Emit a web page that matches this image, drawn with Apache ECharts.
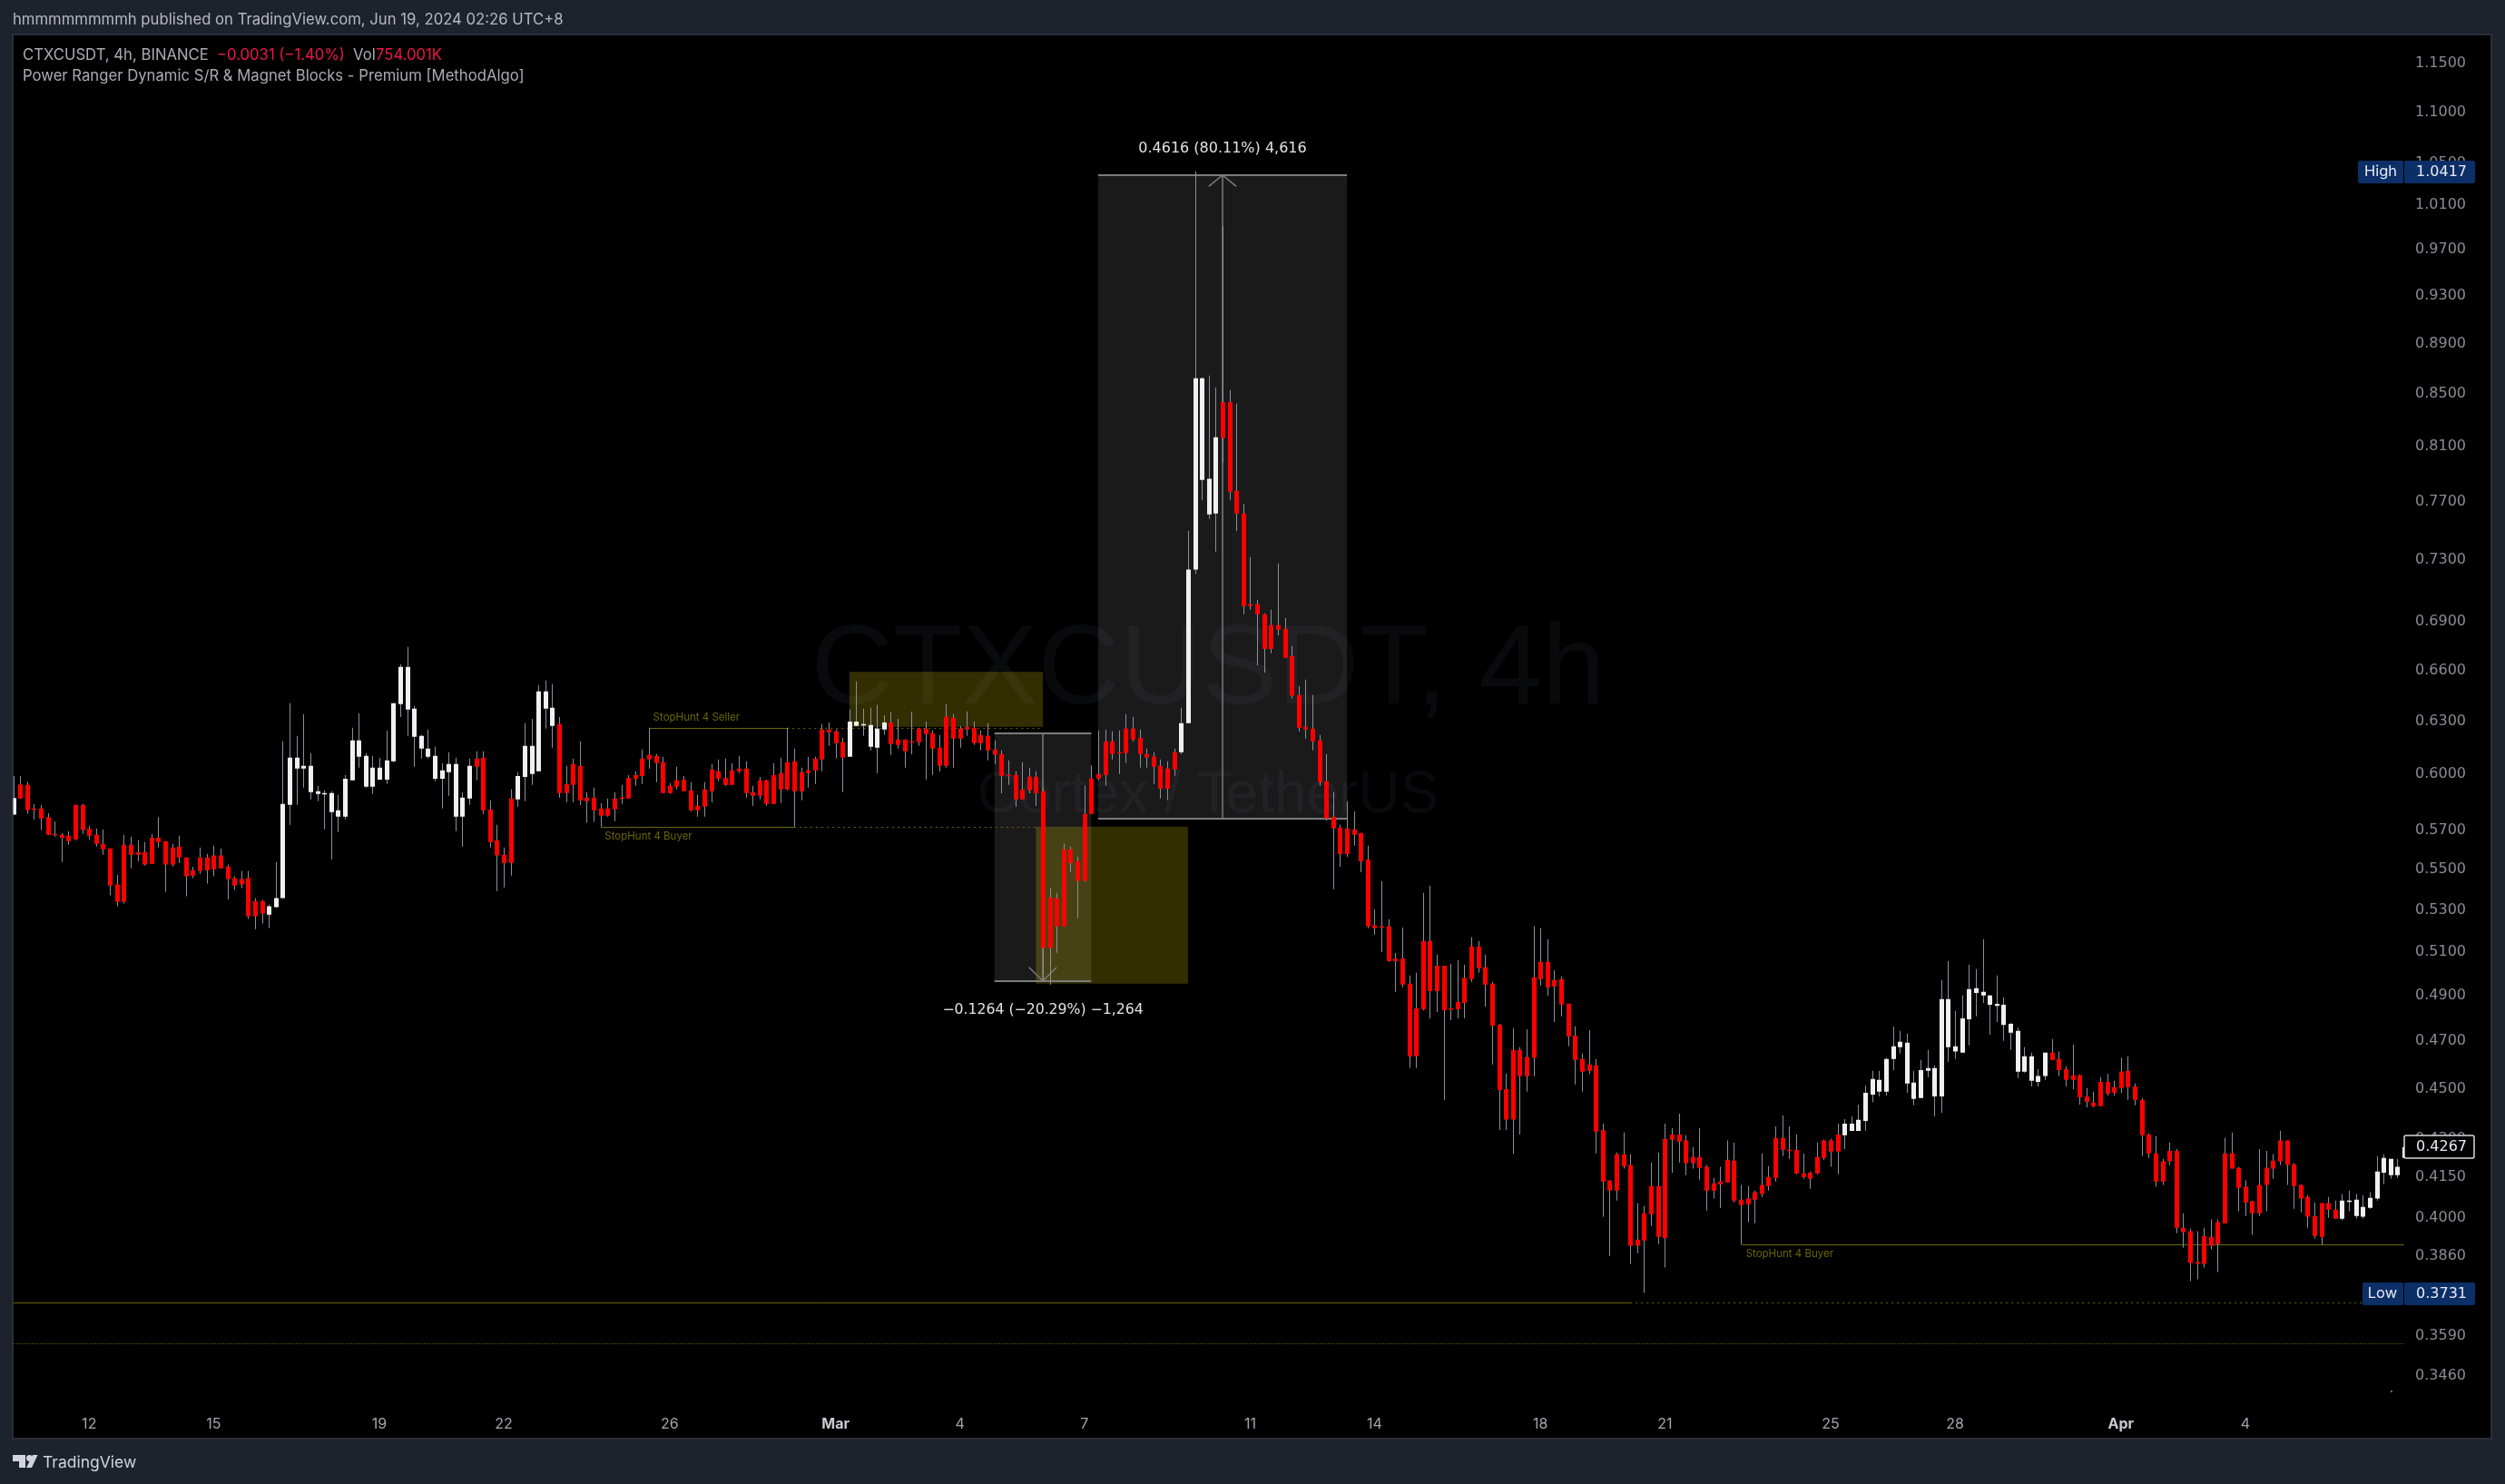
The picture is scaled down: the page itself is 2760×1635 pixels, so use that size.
<!DOCTYPE html>
<html>
<head>
<meta charset="utf-8">
<title>CTXCUSDT, 4h</title>
<style>
  html, body { margin: 0; padding: 0; background: #1e222d; }
  #chart { width: 2760px; height: 1635px; }
</style>
<script src="https://cdn.jsdelivr.net/npm/echarts@6/dist/echarts.min.js"></script>
</head>
<body>
<div id="chart"></div>
<script>
// 4h candles, left to right. Bars are coloured by the indicator and not by
// direction, so a body is kept as top and bottom rather than open and close.
const highs = [
  .5992,.5992,.5961,.5839,.5834,.5791,.5748,.5686,.5697,.5836,
  .5840,.5724,.5710,.5705,.5608,.5473,.5678,.5667,.5649,.5640,
  .5681,.5771,.5645,.5631,.5673,.5561,.5514,.5612,.5580,.5622,
  .5608,.5525,.5466,.5493,.5493,.5358,.5349,.5327,.5538,.6185,
  .6404,.6216,.6340,.6118,.5938,.5914,.5909,.5889,.5997,.6262,
  .6346,.6118,.6103,.6093,.6247,.6404,.6637,.6743,.6388,.6221,
  .6252,.6154,.6063,.6123,.6093,.5904,.6088,.6129,.6129,.5860,
  .5730,.5612,.5919,.6013,.6288,.6314,.6512,.6539,.6517,.6324,
  .6048,.6088,.6185,.5904,.5928,.5845,.5870,.5904,.5943,.5997,
  .6018,.6139,.6262,.6113,.6098,.5953,.6043,.5992,.5958,.5889,
  .5958,.6058,.6083,.6088,.6063,.6103,.6073,.5938,.5987,.5972,
  .6063,.6093,.6262,.6144,.6038,.6098,.6098,.6283,.6293,.6252,
  .6205,.6367,.6533,.6372,.6378,.6394,.6335,.6351,.6314,.6195,
  .6355,.6262,.6297,.6247,.6221,.6399,.6341,.6273,.6357,.6299,
  .6247,.6288,.6190,.6134,.6078,.6018,.6068,.6038,.6018,.5927,
  .5407,.5384,.5631,.5617,.5565,.5939,.6050,.6247,.6252,.6242,
  .6247,.6341,.6325,.6252,.6144,.6124,.6083,.6073,.6144,.6378,
  .7498,1.0417,.8629,.8644,.8551,.9907,.8530,.8424,.7687,.7321,
  .7040,.6954,.6977,.7279,.6925,.6749,.6506,.6544,.6453,.6221,
  .6114,.5904,.5730,.5855,.5801,.5687,.5622,.5303,.5442,.5256,
  .5096,.5217,.4992,.5004,.5384,.5420,.5088,.5037,.5046,.5062,
  .5041,.5170,.5152,.5088,.4963,.4776,.4564,.4756,.4675,.4752,
  .5222,.5213,.5161,.5016,.4988,.4864,.4765,.4648,.4748,.4625,
  .4359,.4138,.4245,.4324,.4238,.4053,.4043,.4207,.4245,.4359,
  .4341,.4399,.4313,.4267,.4341,.4197,.4148,.4190,.4292,.4284,
  .4121,.4117,.4100,.4242,.4193,.4348,.4392,.4348,.4316,.4242,
  .4172,.4284,.4295,.4299,.4359,.4377,.4388,.4436,.4514,.4575,
  .4575,.4629,.4764,.4745,.4733,.4575,.4621,.4663,.4598,.4971,
  .5058,.4833,.4901,.5041,.5021,.5160,.4905,.4992,.4893,.4780,
  .4760,.4675,.4652,.4582,.4652,.4710,.4656,.4594,.4686,.4560,
  .4503,.4488,.4548,.4563,.4533,.4629,.4636,.4522,.4462,.4320,
  .4309,.4221,.4284,.4259,.4016,.3960,.3950,.3963,.3993,.3993,
  .4302,.4324,.4190,.4138,.4063,.4259,.4252,.4238,.4330,.4292,
  .4204,.4124,.4083,.4056,.4053,.4076,.4063,.4087,.4100,.4087,
  .4083,.4094,.4231,.4238,.4221,.4221,.4313
];
const bodyTops = [
  .5872,.5946,.5943,.5816,.5816,.5771,.5682,.5678,.5673,.5836,
  .5836,.5708,.5678,.5631,.5608,.5425,.5626,.5626,.5589,.5589,
  .5663,.5663,.5645,.5612,.5617,.5561,.5497,.5561,.5561,.5571,
  .5571,.5515,.5457,.5452,.5457,.5344,.5344,.5318,.5358,.5840,
  .6093,.6093,.6048,.6048,.5909,.5899,.5899,.5806,.5977,.6190,
  .6190,.6103,.6038,.6038,.6078,.6404,.6621,.6621,.6372,.6216,
  .6144,.6103,.6023,.6058,.6058,.5875,.6048,.6088,.6093,.5811,
  .5649,.5575,.5870,.5992,.6159,.6159,.6474,.6474,.6378,.6283,
  .5948,.6058,.6048,.5875,.5875,.5816,.5816,.5870,.5875,.5982,
  .5997,.6088,.6108,.6103,.6068,.5938,.5968,.5972,.5914,.5831,
  .5919,.6028,.6018,.5982,.6023,.6033,.6033,.5904,.5968,.5968,
  .5997,.6008,.6068,.6073,.6013,.6023,.6088,.6252,.6252,.6242,
  .6180,.6298,.6298,.6283,.6278,.6257,.6293,.6293,.6195,.6195,
  .6185,.6257,.6257,.6231,.6149,.6325,.6320,.6257,.6268,.6262,
  .6221,.6216,.6139,.6114,.5998,.5998,.5917,.5988,.5988,.5909,
  .5362,.5358,.5603,.5603,.5543,.5787,.5978,.6003,.6185,.6185,
  .6124,.6257,.6257,.6205,.6114,.6099,.6048,.6033,.6124,.6288,
  .7237,.8622,.8622,.7864,.8169,.8436,.8436,.7778,.7618,.7011,
  .7011,.6948,.6879,.6879,.6856,.6687,.6453,.6267,.6257,.6190,
  .5963,.5772,.5716,.5711,.5706,.5687,.5551,.5226,.5222,.5222,
  .5070,.5070,.4955,.4844,.5152,.5152,.5037,.5037,.4844,.4872,
  .4980,.5126,.5126,.5029,.4955,.4772,.4499,.4663,.4663,.4633,
  .4984,.5054,.5054,.4971,.4975,.4865,.4725,.4625,.4602,.4598,
  .4333,.4138,.4238,.4238,.4197,.3920,.4016,.4117,.4117,.4299,
  .4316,.4316,.4292,.4228,.4228,.4190,.4127,.4134,.4217,.4214,
  .4066,.4070,.4094,.4121,.4151,.4302,.4302,.4256,.4256,.4165,
  .4168,.4228,.4292,.4292,.4316,.4359,.4359,.4374,.4484,.4541,
  .4537,.4625,.4679,.4698,.4694,.4526,.4578,.4586,.4586,.4885,
  .4885,.4679,.4800,.4930,.4934,.4918,.4901,.4864,.4860,.4776,
  .4745,.4636,.4636,.4553,.4652,.4652,.4625,.4582,.4556,.4556,
  .4469,.4444,.4529,.4529,.4507,.4571,.4575,.4510,.4455,.4316,
  .4242,.4211,.4252,.4252,.3963,.3950,.3840,.3933,.3930,.3983,
  .4242,.4242,.4186,.4114,.4060,.4121,.4186,.4214,.4292,.4292,
  .4200,.4121,.4076,.4006,.4053,.4053,.4029,.4063,.4063,.4066,
  .4039,.4073,.4172,.4224,.4221,.4190,.4267
];
const bodyBottoms = [
  .5784,.5870,.5808,.5811,.5763,.5678,.5678,.5663,.5645,.5654,
  .5702,.5673,.5631,.5603,.5420,.5340,.5340,.5575,.5575,.5525,
  .5529,.5640,.5525,.5525,.5561,.5466,.5470,.5493,.5497,.5501,
  .5506,.5452,.5420,.5425,.5270,.5270,.5283,.5278,.5314,.5358,
  .5836,.6033,.6033,.5904,.5894,.5894,.5797,.5773,.5773,.5968,
  .6098,.5933,.5933,.5972,.5972,.6073,.6399,.6367,.6211,.6144,
  .6098,.5977,.5977,.6013,.5773,.5773,.5870,.6043,.5806,.5640,
  .5571,.5534,.5534,.5865,.5987,.6003,.6018,.6372,.6273,.5899,
  .5899,.5943,.5860,.5855,.5806,.5778,.5778,.5811,.5870,.5870,
  .5977,.5992,.6083,.6063,.5899,.5899,.5933,.5909,.5806,.5806,
  .5826,.5909,.5977,.5943,.5943,.6018,.5899,.5884,.5884,.5840,
  .5840,.5919,.5919,.5909,.5909,.6008,.6023,.6083,.6237,.6175,
  .6093,.6098,.6273,.6278,.6154,.6149,.6252,.6170,.6164,.6129,
  .6180,.6180,.6226,.6144,.6048,.6048,.6200,.6200,.6252,.6174,
  .6174,.6134,.6109,.5993,.5993,.5865,.5865,.5913,.5898,.5119,
  .5119,.5221,.5221,.5534,.5443,.5443,.5787,.5978,.5998,.6114,
  .6119,.6119,.6195,.6114,.6094,.6043,.5922,.5922,.6028,.6124,
  .6288,.7237,.7857,.7612,.7618,.8163,.7772,.7618,.7000,.7000,
  .6948,.6731,.6731,.6850,.6676,.6448,.6262,.6252,.6185,.5958,
  .5763,.5711,.5579,.5579,.5678,.5542,.5222,.5213,.5217,.5058,
  .5058,.4951,.4636,.4636,.4840,.4921,.4921,.4836,.4840,.4840,
  .4868,.4975,.5025,.4951,.4768,.4495,.4375,.4375,.4552,.4552,
  .4629,.4975,.4938,.4942,.4861,.4721,.4621,.4571,.4575,.4327,
  .4134,.4100,.4100,.4193,.3898,.3898,.3917,.4012,.3930,.3926,
  .4295,.4288,.4204,.4204,.4186,.4100,.4100,.4124,.4131,.4063,
  .4046,.4049,.4066,.4087,.4117,.4148,.4256,.4252,.4165,.4151,
  .4144,.4165,.4224,.4249,.4249,.4313,.4330,.4330,.4370,.4476,
  .4488,.4488,.4625,.4675,.4522,.4459,.4462,.4575,.4469,.4469,
  .4675,.4656,.4652,.4796,.4913,.4901,.4860,.4855,.4771,.4737,
  .4571,.4571,.4533,.4529,.4553,.4621,.4578,.4537,.4537,.4465,
  .4447,.4429,.4429,.4481,.4484,.4503,.4507,.4455,.4313,.4242,
  .4134,.4134,.4211,.3963,.3947,.3837,.3834,.3834,.3898,.3904,
  .3979,.4183,.4110,.4056,.4016,.4016,.4121,.4183,.4211,.4197,
  .4117,.4070,.4003,.3933,.3930,.4029,.3996,.3996,.4060,.4006,
  .4003,.4036,.4070,.4168,.4158,.4158,.4224
];
const lows = [
  .5784,.5870,.5789,.5756,.5702,.5678,.5668,.5538,.5626,.5649,
  .5682,.5654,.5617,.5575,.5371,.5318,.5331,.5506,.5543,.5520,
  .5529,.5612,.5389,.5515,.5534,.5367,.5457,.5479,.5430,.5466,
  .5506,.5353,.5398,.5407,.5257,.5208,.5235,.5213,.5314,.5358,
  .5730,.5836,.5928,.5865,.5855,.5707,.5552,.5692,.5759,.5968,
  .6038,.5928,.5894,.5972,.5948,.6068,.6324,.6216,.6043,.6088,
  .6088,.5963,.5816,.5884,.5697,.5617,.5836,.5968,.5787,.5612,
  .5393,.5411,.5470,.5826,.5855,.5943,.6018,.6257,.6149,.5875,
  .5850,.5850,.5836,.5740,.5745,.5720,.5773,.5749,.5840,.5870,
  .5938,.5948,.6033,.5958,.5899,.5894,.5919,.5909,.5802,.5773,
  .5773,.5850,.5963,.5938,.5943,.6008,.5875,.5831,.5865,.5831,
  .5840,.5845,.5914,.5720,.5860,.5928,.5948,.6018,.6159,.6088,
  .5904,.6098,.6273,.6216,.6134,.6008,.6221,.6108,.6144,.6038,
  .6112,.6159,.5973,.5998,.6018,.6038,.6038,.6149,.6216,.6164,
  .6134,.6078,.6058,.5898,.5943,.5825,.5865,.5898,.5830,.4970,
  .4951,.5097,.5221,.5488,.5260,.5439,.5787,.5968,.5939,.6083,
  .6003,.6063,.6185,.6038,.6038,.5948,.5870,.5860,.5993,.6114,
  .6288,.7207,.7713,.7581,.7357,.7981,.7713,.7498,.6948,.6977,
  .6631,.6587,.6704,.6815,.6676,.6432,.6241,.6200,.6134,.5938,
  .5753,.5402,.5514,.5565,.5622,.5487,.5213,.5182,.5100,.5054,
  .4917,.4938,.4587,.4587,.4836,.4800,.4828,.4454,.4792,.4800,
  .4800,.4963,.5004,.4852,.4602,.4334,.4334,.4240,.4316,.4488,
  .4552,.4946,.4900,.4784,.4809,.4679,.4518,.4488,.4563,.4242,
  .4003,.3862,.4063,.4183,.3834,.3872,.3733,.3970,.3904,.3821,
  .4168,.4207,.4158,.4183,.4141,.4026,.4070,.4036,.4131,.4056,
  .3904,.3983,.3979,.4076,.4100,.4134,.4231,.4221,.4162,.4144,
  .4107,.4162,.4217,.4190,.4162,.4259,.4330,.4330,.4330,.4446,
  .4469,.4473,.4578,.4648,.4484,.4433,.4462,.4548,.4388,.4403,
  .4613,.4625,.4652,.4683,.4809,.4868,.4729,.4784,.4702,.4663,
  .4545,.4567,.4510,.4510,.4537,.4621,.4553,.4510,.4499,.4436,
  .4425,.4425,.4429,.4473,.4473,.4484,.4455,.4433,.4231,.4224,
  .4114,.4121,.4197,.3943,.3891,.3774,.3780,.3821,.3885,.3805,
  .3979,.4183,.4023,.4006,.3937,.4006,.4023,.4144,.4197,.4121,
  .4032,.4019,.3963,.3924,.3901,.3999,.3996,.3990,.4023,.3996,
  .3996,.4032,.4063,.4124,.4144,.4148,.4186
];
// stretches of white bars (first and last index), everything else is red
const whiteRuns = [[0, 0], [37, 66], [73, 78], [121, 126], [169, 174], [265, 294], [337, 346]];

// x axis: candle index where a day label sits, and its text
const dayTickIndex = [11, 29, 53, 71, 95, 119, 137, 155, 179, 197, 221, 239, 263, 281, 305, 323];
const dayTickLabel = ['12', '15', '19', '22', '26', 'Mar', '4', '7', '11', '14', '18', '21', '25', '28', 'Apr', '4'];
const priceTicks = [1.15, 1.1, 1.05, 1.01, .97, .93, .89, .85, .81, .77, .73, .69, .66, .63, .6, .57, .55, .53, .51, .49, .47, .45, .43, .415, .4, .386, .359, .346];

const RED = '#ff0000';
const WHITE = '#f0f0f0';
const WICK = '#8d8f99';
const OLIVE = '#6b6604';
const LABEL_GREY = '#8a8c92';
const TAG_BLUE = '#0c2f68';
const FONT = 'Inter, sans-serif';
const NUM_FONT = '"DejaVu Sans", sans-serif';

const categories = highs.map((_, i) => String(i));
const candleRows = highs.map((h, i) => {
  const white = whiteRuns.some(r => i >= r[0] && i <= r[1]);
  return [i, h, bodyTops[i], bodyBottoms[i], lows[i], white ? 1 : 0];
});

function renderCandle(params, api) {
  const i = api.value(0);
  const x = Math.round(api.coord([i, api.value(1)])[0]);
  const yHigh = api.coord([i, api.value(1)])[1];
  const yTop = api.coord([i, api.value(2)])[1];
  const yBottom = api.coord([i, api.value(3)])[1];
  const yLow = api.coord([i, api.value(4)])[1];
  const clip = params.coordSys;
  return {
    type: 'group',
    clipPath: { type: 'rect', shape: { x: clip.x, y: clip.y, width: clip.width, height: clip.height } },
    children: [
      { type: 'rect', shape: { x: x, y: yHigh, width: 1, height: Math.max(yLow - yHigh, 1) }, style: { fill: WICK } },
      { type: 'rect', shape: { x: x - 2, y: yTop, width: 5, height: Math.max(yBottom - yTop, 1.5) },
        style: { fill: api.value(5) ? WHITE : RED } }
    ]
  };
}

// helpers for the trader's drawings, all in bar index and price
const box = (x1, x2, top, bottom, fill) => [
  { coord: [x1, top], itemStyle: { color: fill, borderWidth: 0 } },
  { coord: [x2, bottom] }
];
const seg = (x1, p1, x2, p2, color, width, type) => [
  { coord: [x1, p1], lineStyle: { color: color, width: width, type: type || 'solid', opacity: 1 } },
  { coord: [x2, p2] }
];
const note = (x, p, text, color, size, position, offset, family) => ({
  coord: [x, p],
  symbol: 'circle',
  symbolSize: 0,
  label: { show: true, formatter: text, color: color, fontSize: size, fontFamily: family || FONT, position: position, distance: 0, offset: offset }
});

const BOX_GREY = 'rgba(255,255,255,0.10)';
const BOX_YELLOW = 'rgba(255,232,0,0.20)';
const MEASURE = '#7c7c7c';

const chart = echarts.init(document.getElementById('chart'), null, { renderer: 'canvas' });

const tag = (x, y, w, h, fill, stroke) => ({
  type: 'rect', z: 50, shape: { x: x, y: y, width: w, height: h, r: 2 },
  style: { fill: fill, stroke: stroke || null, lineWidth: stroke ? 1.5 : 0 }
});
const txt = (x, y, text, fill, size, align, family, z) => ({
  type: 'text', z: z === undefined ? 51 : z, silent: true,
  style: { x: x, y: y, text: text, fill: fill, font: size + 'px ' + (family || FONT), align: align || 'left', verticalAlign: 'middle' }
});

chart.setOption({
  animation: false,
  backgroundColor: '#1e222d',
  graphic: { elements: [
    { type: 'rect', z: -10, shape: { x: 14, y: 38, width: 2731, height: 1547 }, style: { fill: '#000000', stroke: '#2a2e39', lineWidth: 2 } },
    txt(1331, 741, 'CTXCUSDT, 4h', '#090a0c', 125, 'center', '"Liberation Sans", sans-serif', -5),
    txt(1331, 877, 'Cortex / TetherUS', '#090a0c', 64, 'center', '"Liberation Sans", sans-serif', -5),

    txt(14, 22, 'hmmmmmmmmh published on TradingView.com, Jun 19, 2024 02:26 UTC+8', '#b6b9c2', 16.7),
    txt(25, 60.5, 'CTXCUSDT, 4h, BINANCE', '#a9acb5', 16.7),
    txt(239, 60.5, '\u22120.0031 (\u22121.40%)', '#ee1747', 16.7),
    txt(389, 60.5, 'Vol', '#a9acb5', 16.7),
    txt(414, 60.5, '754.001K', '#ee1747', 16.7),
    txt(25, 84, 'Power Ranger Dynamic S/R & Magnet Blocks - Premium [MethodAlgo]', '#a9acb5', 16.7),

    tag(2598, 177, 50, 25, TAG_BLUE),
    tag(2649, 177, 78, 25, TAG_BLUE),
    txt(2623, 189.5, 'High', '#e8eaf0', 16.5, 'center'),
    txt(2718, 189.5, '1.0417', '#e8eaf0', 16, 'right', NUM_FONT),
    tag(2603, 1413, 45, 25, TAG_BLUE),
    tag(2649, 1413, 78, 25, TAG_BLUE),
    txt(2625, 1425.5, 'Low', '#e8eaf0', 16.5, 'center'),
    txt(2718, 1425.5, '0.3731', '#e8eaf0', 16, 'right', NUM_FONT),
    tag(2649, 1251, 77, 25, '#000000', '#d8d8d8'),
    txt(2718, 1263.5, '0.4267', '#e8eaf0', 16, 'right', NUM_FONT),
    { type: 'rect', z: 4, shape: { x: 2634, y: 1532, width: 2, height: 2 }, style: { fill: '#6a6a6a' } },

    // TradingView mark and wordmark
    { type: 'polygon', shape: { points: [[14, 1603], [28, 1603], [28, 1617], [21, 1617], [21, 1610], [14, 1610]] }, style: { fill: '#d1d4dc' } },
    { type: 'circle', shape: { cx: 32.5, cy: 1606.5, r: 3.5 }, style: { fill: '#d1d4dc' } },
    { type: 'polygon', shape: { points: [[36, 1603], [41.5, 1603], [35, 1617], [29, 1617]] }, style: { fill: '#d1d4dc' } },
    txt(47, 1612, 'TradingView', '#d1d4dc', 17.5)
  ] },
  grid: { left: 14.5, top: 38, width: 2634.5, height: 1547, containLabel: false },
  xAxis: {
    type: 'category',
    data: categories,
    boundaryGap: false,
    axisLine: { show: false },
    axisTick: { show: false },
    splitLine: { show: false },
    axisLabel: {
      inside: true,
      margin: 8,
      interval: i => dayTickIndex.includes(i),
      formatter: (v, i) => {
        const t = dayTickLabel[dayTickIndex.indexOf(i)];
        return (t === 'Mar' || t === 'Apr') ? '{m|' + t + '}' : t;
      },
      color: '#a3a6af',
      fontSize: 16,
      fontFamily: FONT,
      rich: { m: { fontWeight: 'bold', color: '#c8cad1', fontSize: 16, fontFamily: FONT } }
    }
  },
  yAxis: {
    type: 'log',
    logBase: 10,
    min: .32674,
    max: 1.181,
    position: 'right',
    axisLine: { show: false },
    axisTick: { show: false },
    splitLine: { show: false },
    minorTick: { show: false },
    axisLabel: {
      customValues: priceTicks,
      formatter: v => Number(v).toFixed(4),
      align: 'right',
      margin: 68,
      color: LABEL_GREY,
      fontSize: 16,
      fontFamily: NUM_FONT,
      padding: [6, 0, 0, 0]
    }
  },
  series: [
    {
      name: 'drawings',
      type: 'line',
      data: [],
      z: 1,
      silent: true,
      markArea: {
        silent: true,
        z: 1,
        data: [
          box(142, 156, .6231, .4967, BOX_GREY),
          box(157, 193, 1.0383, .5763, BOX_GREY),
          box(121, 149, .6591, .6267, BOX_YELLOW),
          box(148, 170, .5720, .4955, BOX_YELLOW)
        ]
      },
      markLine: {
        silent: true,
        z: 2,
        symbol: ['none', 'none'],
        label: { show: false },
        data: [
          // stop hunt levels
          seg(92, .6262, 112, .6262, OLIVE, 1),
          seg(112, .6262, 149, .6262, OLIVE, 1, [2, 4]),
          seg(85, .5720, 113, .5720, OLIVE, 1),
          seg(113, .5720, 148, .5720, OLIVE, 1, [2, 4]),
          seg(250, .3903, 346, .3903, OLIVE, 1),
          seg(0, .3701, 234, .3701, OLIVE, 1),
          seg(234, .3701, 340, .3701, OLIVE, 1, [2, 4]),
          seg(0, .3565, 346, .3565, '#8f8700', 1, [1, 2]),
          // price range tools
          seg(142, .6231, 156, .6231, MEASURE, 2),
          seg(142, .4967, 156, .4967, MEASURE, 2),
          seg(149, .6231, 149, .4967, MEASURE, 1.5),
          seg(147, .5029, 149, .4967, MEASURE, 1.5),
          seg(151, .5029, 149, .4967, MEASURE, 1.5),
          seg(157, 1.0383, 193, 1.0383, MEASURE, 2),
          seg(157, .5763, 193, .5763, MEASURE, 2),
          seg(175, 1.0383, 175, .5763, MEASURE, 1.5),
          seg(173, 1.0277, 175, 1.0383, MEASURE, 1.5),
          seg(177, 1.0277, 175, 1.0383, MEASURE, 1.5)
        ]
      },
      markPoint: {
        silent: true,
        z: 3,
        data: [
          note(93, .6262, 'StopHunt 4 Seller', OLIVE, 11.5, 'right', [-3, -11]),
          note(86, .5720, 'StopHunt 4 Buyer', OLIVE, 11.5, 'right', [-3, 11]),
          note(251, .3903, 'StopHunt 4 Buyer', OLIVE, 11.5, 'right', [-2, 11]),
          note(175, 1.0383, '0.4616 (80.11%) 4,616', '#e2e2e2', 16, 'top', [0, -21], NUM_FONT),
          note(149, .4967, '\u22120.1264 (\u221220.29%) \u22121,264', '#e2e2e2', 15.7, 'bottom', [0, 24], NUM_FONT)
        ]
      }
    },
    {
      name: 'CTXCUSDT',
      type: 'custom',
      z: 5,
      clip: true,
      silent: true,
      data: candleRows,
      encode: { x: 0, y: [1, 2, 3, 4] },
      renderItem: renderCandle
    }
  ]
});
</script>
</body>
</html>
